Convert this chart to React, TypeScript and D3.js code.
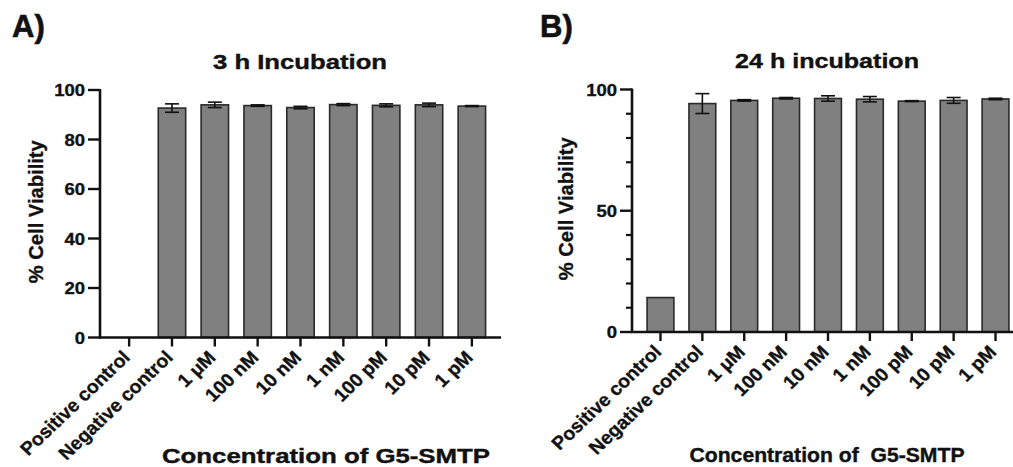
import React from "react";
import * as d3 from "d3";

// groups on the x axis (same for both panels)
const categories = [
  "Positive control",
  "Negative control",
  "1 μM",
  "100 nM",
  "10 nM",
  "1 nM",
  "100 pM",
  "10 pM",
  "1 pM",
];

// A) 3 h incubation, % cell viability (mean, error)
const meanA = [0, 92.7, 94.0, 93.7, 92.9, 94.1, 93.8, 94.0, 93.5];
const errA = [0, 1.7, 1.1, 0.3, 0.5, 0.4, 0.6, 0.7, 0.2];

// B) 24 h incubation
const meanB = [14.2, 94.2, 95.5, 96.4, 96.3, 96.0, 95.2, 95.5, 96.1];
const errB = [0, 4.1, 0.3, 0.3, 1.1, 1.1, 0.2, 1.2, 0.3];

const ticksA = [0, 20, 40, 60, 80, 100];
const ticksB = [0, 50, 100];
const minorTicksB = [10, 20, 30, 40, 60, 70, 80, 90];

const FONT = "'Liberation Sans', Arial, sans-serif";

function Panel({ means, errs, ticks, minor, layout, letter, title, xTitle }) {
  const { x0, x1, y0, y1, titleX, titleY, titleW, xtX, xtY, xtW, ylX, letterX } = layout;

  const x = d3.scaleBand().domain(categories).range([x0, x1]).paddingInner(0.36).paddingOuter(0.36);
  const y = d3.scaleLinear().domain([0, 100]).range([y0, y1]);
  const bw = x.bandwidth();

  return (
    <g fontFamily={FONT} fontWeight="bold" fill="#111">
      <text x={letterX} y={37} fontSize={31} stroke="#111" strokeWidth={0.6}>{letter}</text>
      <text x={titleX} y={titleY} fontSize={21} textAnchor="middle" textLength={titleW} lengthAdjust="spacingAndGlyphs" stroke="#111" strokeWidth={0.4}>
        {title}
      </text>

      {/* bars */}
      {means.map((m, i) =>
        m > 0 ? (
          <rect
            key={"b" + i}
            x={x(categories[i])}
            y={y(m)}
            width={bw}
            height={y(0) - y(m)}
            fill="#808080"
            stroke="#2a2a2a"
            strokeWidth={1.6}
          />
        ) : null
      )}

      {/* error bars */}
      {means.map((m, i) => {
        if (!errs[i]) return null;
        const cx = x(categories[i]) + bw / 2;
        const hi = y(m + errs[i]);
        const lo = y(m - errs[i]);
        return (
          <g key={"e" + i} stroke="#111" strokeWidth={1.6}>
            <line x1={cx} x2={cx} y1={hi} y2={lo} />
            <line x1={cx - 7} x2={cx + 7} y1={hi} y2={hi} />
            <line x1={cx - 7} x2={cx + 7} y1={lo} y2={lo} />
          </g>
        );
      })}

      {/* y axis */}
      <line x1={x0} x2={x0} y1={y(100) - 1} y2={y(0) + 1} stroke="#111" strokeWidth={2.6} />
      {ticks.map((t) => (
        <g key={"t" + t}>
          <line x1={x0 - 12} x2={x0} y1={y(t)} y2={y(t)} stroke="#111" strokeWidth={2.4} />
          <text
            transform={`translate(${x0 - 15},${y(t) + 6}) scale(1.12,1)`}
            fontSize={16.5}
            textAnchor="end"
            stroke="#111"
            strokeWidth={0.35}
          >
            {t}
          </text>
        </g>
      ))}
      {minor.map((t) => (
        <line key={"m" + t} x1={x0 - 6} x2={x0} y1={y(t)} y2={y(t)} stroke="#111" strokeWidth={2.2} />
      ))}
      <text
        transform={`translate(${ylX},${(y0 + y1) / 2 - 2}) rotate(-90)`}
        fontSize={19.5}
        textAnchor="middle"
        textLength={143}
        lengthAdjust="spacingAndGlyphs"
        stroke="#111"
        strokeWidth={0.35}
      >
        % Cell Viability
      </text>

      {/* x axis */}
      <line x1={x0 - 1} x2={x1} y1={y(0)} y2={y(0)} stroke="#111" strokeWidth={2.6} />
      {categories.map((c) => {
        const cx = x(c) + bw / 2;
        return (
          <g key={"x" + c}>
            <line x1={cx} x2={cx} y1={y(0)} y2={y(0) + 9} stroke="#111" strokeWidth={2.4} />
            <text
              transform={`translate(${cx + 2},${y(0) + 21}) scale(1.05,1) rotate(-45)`}
              fontSize={18.5}
              textAnchor="end"
              stroke="#111"
              strokeWidth={0.35}
            >
              {c}
            </text>
          </g>
        );
      })}
      <text x={xtX} y={xtY} fontSize={20} textAnchor="middle" textLength={xtW} lengthAdjust="spacingAndGlyphs" xmlSpace="preserve" stroke="#111" strokeWidth={0.4}>
        {xTitle}
      </text>
    </g>
  );
}

const layoutA = {
  x0: 100, x1: 501, y0: 337.5, y1: 90,
  titleX: 300, titleY: 69, titleW: 174,
  xtX: 326, xtY: 463, xtW: 328,
  ylX: 43, letterX: 12,
};

const layoutB = {
  x0: 632, x1: 1024, y0: 332, y1: 89.5,
  titleX: 827, titleY: 68, titleW: 184,
  xtX: 827, xtY: 462, xtW: 275,
  ylX: 573, letterX: 540,
};

export default function App() {
  return (
    <svg
      width={1013}
      height={467}
      style={{ position: "absolute", left: 0, top: 0, background: "#fff" }}
    >
      <rect width={1013} height={467} fill="#fff" />
      <Panel
        means={meanA}
        errs={errA}
        ticks={ticksA}
        minor={[]}
        layout={layoutA}
        letter="A)"
        title="3 h Incubation"
        xTitle="Concentration of G5-SMTP"
      />
      <Panel
        means={meanB}
        errs={errB}
        ticks={ticksB}
        minor={minorTicksB}
        layout={layoutB}
        letter="B)"
        title="24 h incubation"
        xTitle="Concentration of  G5-SMTP"
      />
    </svg>
  );
}
